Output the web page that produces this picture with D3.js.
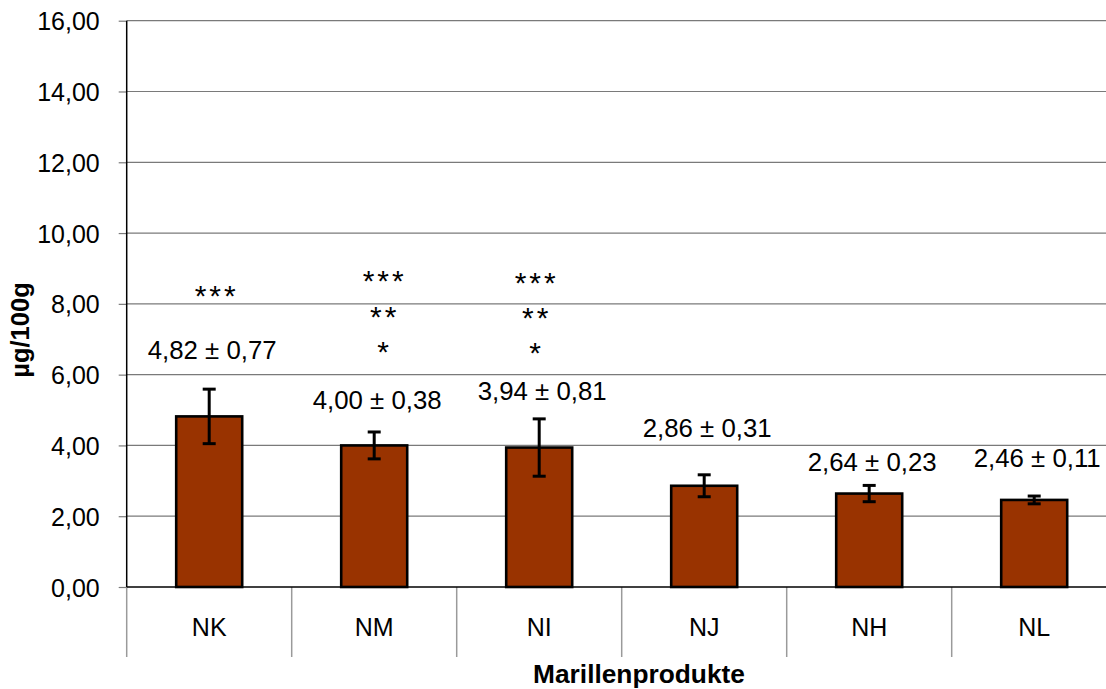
<!DOCTYPE html>
<html>
<head>
<meta charset="utf-8">
<script src="https://cdn.jsdelivr.net/npm/d3@7"></script>
<style>
  html, body { margin: 0; padding: 0; background: #fff; }
  svg { display: block; }
  text { font-family: "Liberation Sans", Arial, Helvetica, sans-serif; fill: #000; }
</style>
</head>
<body>
<svg id="chart" width="1106" height="689"></svg>
<script>
// Apricot products: mean content (µg/100g) with standard deviation
const categories = ["NK", "NM", "NI", "NJ", "NH", "NL"];
const means = [4.82, 4.00, 3.94, 2.86, 2.64, 2.46];
const sds = [0.77, 0.38, 0.81, 0.31, 0.23, 0.11];
// Significance markers stacked above each product
const significance = [["***"], ["***", "**", "*"], ["***", "**", "*"], [], [], []];
const yTicks = [0, 2, 4, 6, 8, 10, 12, 14, 16];

// Annotation placement (value-axis units for the label baselines / marker centres)
const labelLevels = [6.45, 5.04, 5.28, 4.24, 3.28, 3.38];
const markerLevels = [[8.33], [8.76, 7.74, 6.76], [8.71, 7.70, 6.72], [], [], []];
const markerShift = [6, 9, -4, 0, 0, 0];

const svg = d3.select("#chart");
const plotLeft = 126.7, plotTop = 20.7, plotBottom = 587, bandW = 165;

const x = d3.scaleBand()
  .domain(categories)
  .range([plotLeft, plotLeft + bandW * categories.length])
  .paddingInner(0.6)
  .paddingOuter(0.3);

const y = d3.scaleLinear().domain([0, 16]).range([plotBottom, plotTop]);

const comma = v => d3.format(".2f")(v).replace(".", ",");

// Horizontal gridlines
svg.append("g")
  .selectAll("line")
  .data(yTicks.filter(t => t > 0))
  .join("line")
  .attr("x1", plotLeft).attr("x2", 1106)
  .attr("y1", d => y(d)).attr("y2", d => y(d))
  .attr("stroke", "#7a7a7a").attr("stroke-width", 1.2);

// Value axis
const yAxis = d3.axisLeft(y).tickValues(yTicks).tickSize(8).tickPadding(19)
  .tickFormat(comma);
const gy = svg.append("g").attr("transform", `translate(${plotLeft},0)`).call(yAxis);
gy.select(".domain").remove();
gy.selectAll(".tick line").attr("stroke", "#7a7a7a").attr("stroke-width", 1.2);
gy.selectAll(".tick text").style("font-size", "25px").attr("dy", "0.36em");
svg.append("line")
  .attr("x1", plotLeft).attr("x2", plotLeft).attr("y1", plotTop).attr("y2", plotBottom)
  .attr("stroke", "#000").attr("stroke-width", 1.5);

// Category dividers below the baseline
const edges = d3.range(categories.length + 1).map(i => plotLeft + i * bandW);
svg.append("g").selectAll("line").data(edges).join("line")
  .attr("x1", d => d).attr("x2", d => d)
  .attr("y1", plotBottom).attr("y2", 657)
  .attr("stroke", "#9a9a9a").attr("stroke-width", 1.5);

// Bars
svg.append("g").selectAll("rect")
  .data(categories)
  .join("rect")
  .attr("x", d => x(d))
  .attr("width", x.bandwidth())
  .attr("y", (d, i) => y(means[i]))
  .attr("height", (d, i) => y(0) - y(means[i]))
  .attr("fill", "#993300")
  .attr("stroke", "#000")
  .attr("stroke-width", 2.6);

// Category baseline
svg.append("line")
  .attr("x1", plotLeft).attr("x2", 1106).attr("y1", plotBottom).attr("y2", plotBottom)
  .attr("stroke", "#000").attr("stroke-width", 1.5);

// Error bars
const eb = svg.append("g").attr("stroke", "#000").attr("stroke-width", 3);
categories.forEach((c, i) => {
  const cx = x(c) + x.bandwidth() / 2;
  const hi = y(means[i] + sds[i]), lo = y(means[i] - sds[i]);
  eb.append("line").attr("x1", cx).attr("x2", cx).attr("y1", hi).attr("y2", lo);
  eb.append("line").attr("x1", cx - 6.5).attr("x2", cx + 6.5).attr("y1", hi).attr("y2", hi);
  eb.append("line").attr("x1", cx - 6.5).attr("x2", cx + 6.5).attr("y1", lo).attr("y2", lo);
});

// Category labels
svg.append("g").selectAll("text").data(categories).join("text")
  .attr("x", d => x(d) + x.bandwidth() / 2)
  .attr("y", 636)
  .attr("text-anchor", "middle")
  .style("font-size", "25px")
  .text(d => d);

// Mean ± SD labels
svg.append("g").selectAll("text").data(categories).join("text")
  .attr("x", d => x(d) + x.bandwidth() / 2 + 3)
  .attr("y", (d, i) => y(labelLevels[i]))
  .attr("text-anchor", "middle")
  .style("font-size", "25.8px")
  .text((d, i) => `${comma(means[i])} ± ${comma(sds[i])}`);

// Significance markers
const mg = svg.append("g");
categories.forEach((c, i) => {
  significance[i].forEach((s, j) => {
    mg.append("text")
      .attr("x", x(c) + x.bandwidth() / 2 + markerShift[i] + 1.5)
      .attr("y", y(markerLevels[i][j]) + 14)
      .attr("text-anchor", "middle")
      .style("font-size", "30px")
      .style("letter-spacing", "3px")
      .text(s);
  });
});

// Axis titles
svg.append("text")
  .attr("transform", "translate(29,330) rotate(-90)")
  .attr("text-anchor", "middle")
  .style("font-size", "25.5px").style("font-weight", "bold")
  .text("µg/100g");

svg.append("text")
  .attr("x", 639).attr("y", 683)
  .attr("text-anchor", "middle")
  .style("font-size", "26.3px").style("font-weight", "bold")
  .text("Marillenprodukte");
</script>
</body>
</html>
